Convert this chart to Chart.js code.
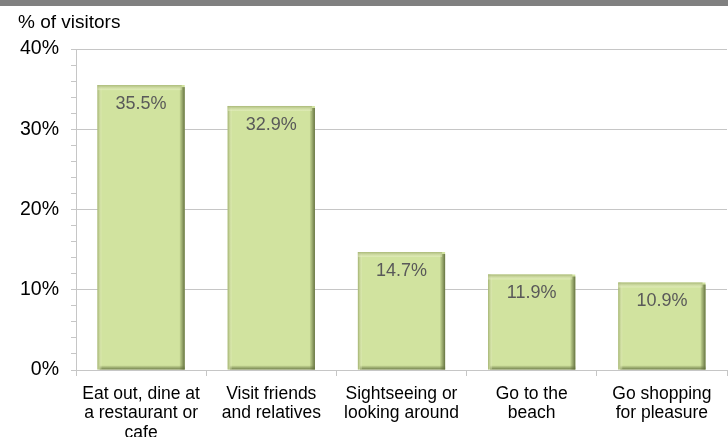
<!DOCTYPE html>
<html>
<head>
<meta charset="utf-8">
<script src="https://cdn.jsdelivr.net/npm/chart.js@4.4.1/dist/chart.umd.min.js"></script>
<style>
  html, body { margin: 0; padding: 0; background: #fff; }
  #wrap { position: relative; width: 728px; height: 437px; }
</style>
</head>
<body>
<div id="wrap"><canvas id="chart" width="728" height="437"></canvas></div>
<script>
// --- data ---
const categories = [
    ['Eat out, dine at', 'a restaurant or', 'cafe'],
    ['Visit friends', 'and relatives'],
    ['Sightseeing or', 'looking around'],
    ['Go to the', 'beach'],
    ['Go shopping', 'for pleasure']
];
const visitorShare = [35.5, 32.9, 14.7, 11.9, 10.9];
const yTicks = [0, 10, 20, 30, 40];
const yTitle = '% of visitors';

const FONT = 'Arial, "Liberation Sans", sans-serif';

// top stripe, axis title and bevelled bar edges
const decor = {
    id: 'decor',
    beforeDraw(chart) {
        const ctx = chart.ctx;
        ctx.save();
        ctx.fillStyle = '#808080';
        ctx.fillRect(0, 0, chart.width, 6);
        ctx.fillStyle = '#000';
        ctx.font = '19px ' + FONT;
        ctx.textBaseline = 'middle';
        ctx.fillText(yTitle, 18, 23);
        ctx.restore();
    },
    afterDatasetsDraw(chart) {
        const ctx = chart.ctx;
        const meta = chart.getDatasetMeta(0);
        ctx.save();
        meta.data.forEach((bar, i) => {
            const left = bar.x - bar.width / 2;
            const right = bar.x + bar.width / 2;
            const top = bar.y;
            const bottom = bar.base;
            // right shade
            let g = ctx.createLinearGradient(right - 5, 0, right, 0);
            g.addColorStop(0, 'rgba(110,125,70,0.15)');
            g.addColorStop(1, 'rgba(95,108,60,0.95)');
            ctx.fillStyle = g;
            ctx.fillRect(right - 5, top + 2, 5, bottom - top - 2);
            // bottom shade
            g = ctx.createLinearGradient(0, bottom - 4, 0, bottom);
            g.addColorStop(0, 'rgba(110,125,70,0.1)');
            g.addColorStop(1, 'rgba(95,108,60,0.85)');
            ctx.fillStyle = g;
            ctx.fillRect(left + 2, bottom - 4, bar.width - 2, 4);
            // left light edge
            g = ctx.createLinearGradient(left, 0, left + 4, 0);
            g.addColorStop(0, 'rgba(150,165,100,0.8)');
            g.addColorStop(1, 'rgba(235,242,200,0.3)');
            ctx.fillStyle = g;
            ctx.fillRect(left, top, 4, bottom - top);
            // top light edge
            g = ctx.createLinearGradient(0, top, 0, top + 5);
            g.addColorStop(0, 'rgba(165,180,115,0.9)');
            g.addColorStop(1, 'rgba(240,246,210,0.4)');
            ctx.fillStyle = g;
            ctx.fillRect(left, top, bar.width - 3, 5);
            // value label
            ctx.fillStyle = '#595959';
            ctx.font = '18px ' + FONT;
            ctx.textAlign = 'center';
            ctx.textBaseline = 'middle';
            ctx.fillText(visitorShare[i].toFixed(1) + '%', bar.x, top + 19);
        });
        ctx.restore();
    }
};

new Chart(document.getElementById('chart'), {
    type: 'bar',
    data: {
        labels: categories,
        datasets: [{
            data: visitorShare,
            backgroundColor: '#d1e39f',
            borderWidth: 0,
            categoryPercentage: 1,
            barPercentage: 0.67
        }]
    },
    options: {
        responsive: false,
        animation: false,
        layout: { padding: { top: 49, left: 0, right: 1, bottom: 0 } },
        plugins: { legend: { display: false }, tooltip: { enabled: false } },
        scales: {
            y: {
                min: 0,
                max: 40,
                afterFit(scale) { scale.width = 76; },
                afterBuildTicks(scale) {
                    const t = [];
                    for (let v = 0; v <= 40; v += 2) t.push({ value: v });
                    scale.ticks = t;
                },
                ticks: {
                    autoSkip: false,
                    padding: 12,
                    color: '#000',
                    font: { family: FONT, size: 19.5 },
                    callback: (v) => yTicks.includes(v) ? v + '%' : ''
                },
                grid: {
                    color: (c) => yTicks.includes(c.tick.value) ? '#c6c6c6' : 'rgba(0,0,0,0)',
                    tickColor: '#c6c6c6',
                    tickLength: 5
                },
                border: { display: true, color: '#c6c6c6' }
            },
            x: {
                afterFit(scale) { scale.height = 67; },
                ticks: {
                    color: '#000',
                    padding: 8,
                    maxRotation: 0,
                    autoSkip: false,
                    font: { family: FONT, size: 17.5, lineHeight: 1.12 }
                },
                grid: {
                    offset: true,
                    drawOnChartArea: false,
                    color: '#c6c6c6',
                    tickLength: 6
                },
                border: { display: true, color: '#c6c6c6' }
            }
        }
    },
    plugins: [decor]
});
</script>
</body>
</html>
